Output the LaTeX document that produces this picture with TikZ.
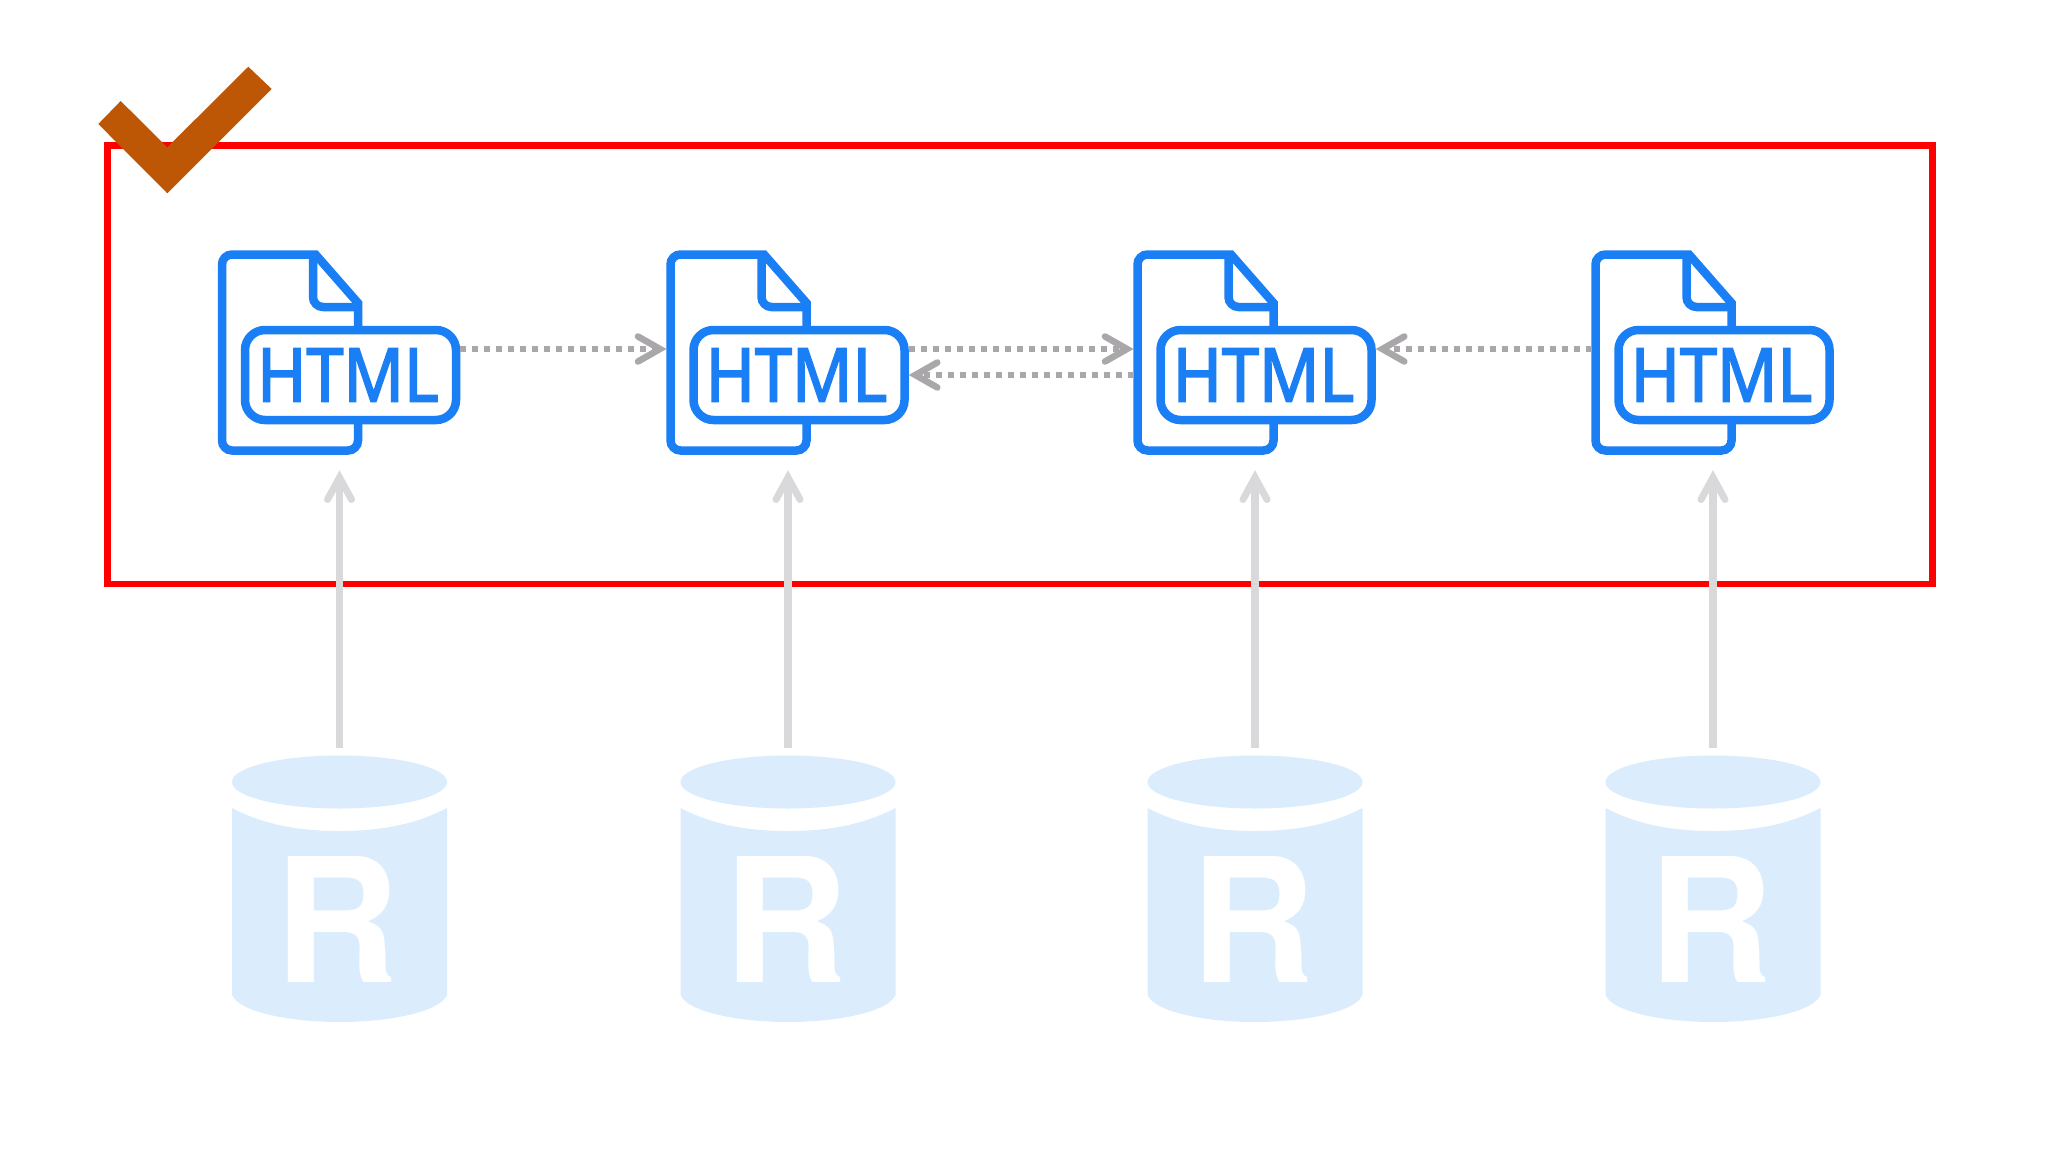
\documentclass[tikz,border=0pt]{standalone}
\usepackage{fontspec}
\newfontfamily\htmlfont[FakeBold=2.4]{Noto Sans}
\newfontfamily\dbfont{TeX Gyre Heros}
\usetikzlibrary{arrows.meta}
\definecolor{docblue}{HTML}{1A7FF5}
\definecolor{dbblue}{HTML}{DBEDFD}
\definecolor{linkgray}{HTML}{A9A7A9}
\definecolor{liftgray}{HTML}{D9D9DB}
\definecolor{checkbrown}{HTML}{BD5605}
\tikzset{
  docline/.style={draw=docblue, line width=8.5pt, line join=miter},
  badge/.style={docline, fill=white, rounded corners=20pt, inner sep=0pt,
    minimum width=211pt, minimum height=90pt, text=docblue},
  docbox/.style={inner sep=0pt, minimum width=143.5pt, minimum height=203pt},
  dbbox/.style={inner sep=0pt, minimum width=215pt, minimum height=266pt},
  dbletter/.style={inner sep=0pt, text=white},
  link/.style={-{Straight Barb[length=22pt,width=25pt,line width=6.5pt,line cap=round]},
    linkgray, line width=6.5pt, dash pattern=on 6pt off 6pt},
  lift/.style={-{Straight Barb[length=22pt,width=24pt,line width=7pt,line cap=round]},
    liftgray, line width=7.5pt, shorten <=8pt, shorten >=16pt},
}
\begin{document}
\begin{tikzpicture}[x=1pt,y=-1pt]
\useasboundingbox (0,0) rectangle (2048,1152);
\fill[white] (0,0) rectangle (2048,1152);

% Cadre
  \draw[red, line width=6.5pt] (107.7,145.5) rectangle (1932.5,584);

% Colonnes
\foreach \n/\cx in {1/339.5,2/788,3/1255,4/1713}{
\begin{scope}[shift={(\cx,0)}]
  % Document
  \node[docbox] (doc\n) at (-49.5,352.5) {};
  \draw[docline] (-24,254.5) [rounded corners=10pt] -- (-117.5,254.5) -- (-117.5,450.5)
     -- (18.5,450.5) -- (18.5,330) [sharp corners] -- (18.5,303) -- cycle;
  \draw[docline] (-26.5,254.5) [rounded corners=10pt] -- (-26.5,307) -- (18.5,307);
  \node[badge] (badge\n) at (11,375)
     {\hspace*{-5pt}\scalebox{0.9}[1]{\htmlfont\fontsize{74}{74}\selectfont HTML}};
  % Base
  \node[dbbox] (db\n) at (0,889) {};
  \fill[dbblue] (0,782) ellipse [x radius=107.5, y radius=26.5];
  \fill[dbblue] (-107.5,808) .. controls (-75,825) and (-40,831) .. (0,831)
     .. controls (40,831) and (75,825) .. (107.5,808) -- (107.5,995)
     .. controls (100,1012) and (50,1022) .. (0,1022)
     .. controls (-50,1022) and (-100,1012) .. (-107.5,995) -- cycle;
  \node[dbletter] (r\n) at (-2.5,919) {\dbfont\bfseries\fontsize{173}{173}\selectfont R};
\end{scope}
}

% Liens
  \draw[link] ([yshift=26pt]badge1.east) -- ([yshift=26pt]badge1.east -| doc2.west);
  \draw[link] ([yshift=26pt]badge2.east) -- ([yshift=26pt]badge2.east -| doc3.west);
  \draw[link] (badge2.east -| doc3.west) -- (badge2.east);
  \draw[link] ([yshift=26pt]badge3.east -| doc4.west) -- ([yshift=26pt]badge3.east);

% Fleches
\foreach \n in {1,2,3,4}
  \draw[lift] (db\n.north) -- (db\n.north |- doc\n.south);

% Coche
  \fill[checkbrown] (98.3,124) -- (120.7,101) -- (167.3,147.3) -- (248.3,66.7)
     -- (271.7,89) -- (167.3,193.3) -- cycle;
\end{tikzpicture}
\end{document}
